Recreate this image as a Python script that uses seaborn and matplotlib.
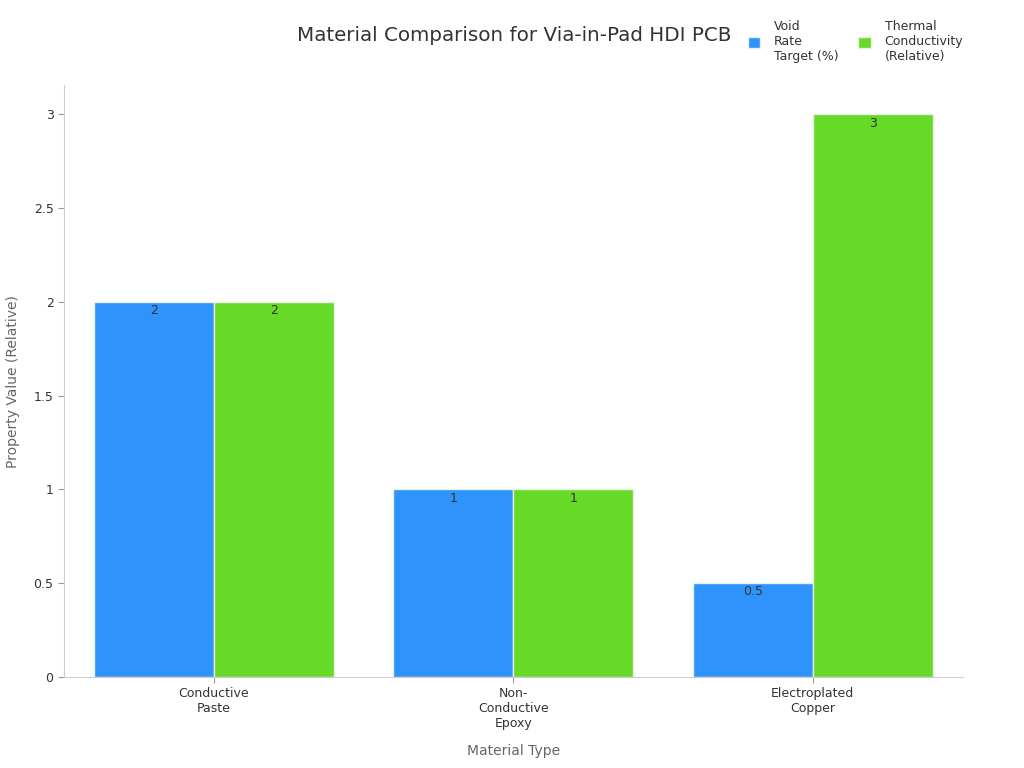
import matplotlib
matplotlib.use("Agg")
import matplotlib.pyplot as plt
import seaborn as sns
import pandas as pd

categories = ["Conductive\nPaste", "Non-\nConductive\nEpoxy", "Electroplated\nCopper"]
series_names = ["Void\nRate\nTarget (%)", "Thermal\nConductivity\n(Relative)"]
void_rate = [2, 1, 0.5]
thermal = [2, 1, 3]
colors = ["#2E93FA", "#66DA26"]

df = pd.DataFrame({
    "Material": categories * 2,
    "Series": [series_names[0]] * 3 + [series_names[1]] * 3,
    "Value": void_rate + thermal,
})

sns.set_theme(style="white")
plt.rcParams['font.family'] = ['DejaVu Sans']

fig = plt.figure(figsize=(10.24, 7.68), dpi=100)
ax = fig.add_axes([0.0625, 0.1185, 0.8775, 0.7705])

sns.barplot(data=df, x="Material", y="Value", hue="Series", palette=colors,
            order=categories, hue_order=series_names, width=0.8,
            edgecolor="#e8f0e8", linewidth=1, saturation=1, ax=ax, legend=True)

for cont in ax.containers:
    labels = [("%g" % v) for v in cont.datavalues]
    ax.bar_label(cont, labels=labels, label_type="edge", padding=-11,
                 fontsize=9, color="#333333")

ax.set_xlim(-0.5, 2.5)
ax.set_ylim(0, 3.155)
ax.set_yticks([0, 0.5, 1, 1.5, 2, 2.5, 3])
ax.set_yticklabels(["0", "0.5", "1", "1.5", "2", "2.5", "3"])
ax.tick_params(axis="both", labelsize=9, colors="#333333", length=4, width=0.8,
               bottom=True, left=True, color="#999999")
for lbl in ax.get_xticklabels():
    lbl.set_color("#333333")

for s in ["top", "right"]:
    ax.spines[s].set_visible(False)
for s in ["left", "bottom"]:
    ax.spines[s].set_color("#cccccc")
    ax.spines[s].set_linewidth(0.8)

ax.set_xlabel("Material Type", fontsize=10, color="#666666", labelpad=10)
ax.set_ylabel("Property Value (Relative)", fontsize=10, color="#666666", labelpad=10)

fig.text(0.502, 0.954, "Material Comparison for Via-in-Pad HDI PCB", ha="center", va="center",
         fontsize=14.3, color="#333333")

handles, labels = ax.get_legend_handles_labels()
ax.legend(handles=handles, labels=labels, loc="upper left", bbox_to_anchor=(0.719, 0.988),
          bbox_transform=fig.transFigure, ncol=2, frameon=False, fontsize=9,
          handlelength=1.0, handleheight=1.0, handletextpad=1.1, columnspacing=1.6,
          labelcolor="#333333")

fig.savefig("out.png", dpi=100)
